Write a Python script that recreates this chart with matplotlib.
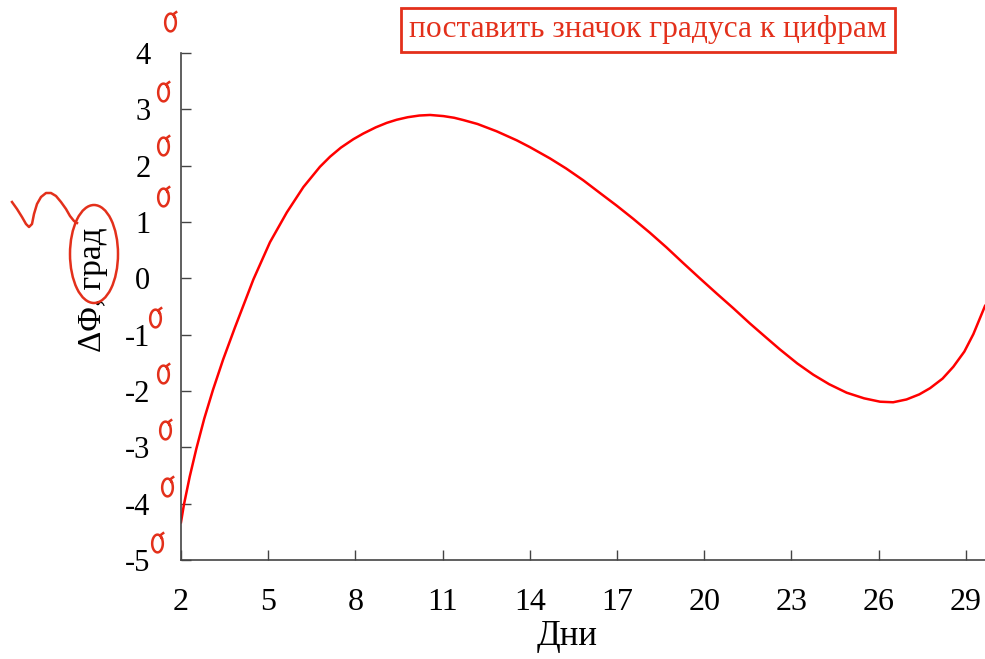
import numpy as np
import matplotlib.pyplot as plt
from matplotlib.path import Path
from matplotlib.patches import Ellipse
from matplotlib.lines import Line2D
import matplotlib.transforms as mtransforms

# values
days = [2.0, 2.1, 2.3, 2.53, 2.8, 3.1, 3.45, 3.85, 4.2, 4.49, 5.06, 5.64, 6.21, 6.78, 7.13,
        7.5, 7.93, 8.27, 8.7, 9.08, 9.42, 9.8, 10.2, 10.57, 11.03, 11.4, 11.71, 12.2, 12.86,
        13.55, 14.0, 14.69, 15.25, 15.84, 16.4, 16.99, 17.55, 18.13, 18.7, 19.28, 19.85,
        20.43, 21.0, 21.57, 22.15, 22.6, 23.2, 23.75, 24.3, 24.9, 25.5, 26.05, 26.5, 26.96,
        27.4, 27.77, 28.2, 28.57, 28.95, 29.26, 29.66]
dphi = [-4.33, -4.02, -3.52, -3.02, -2.49, -1.98, -1.44, -0.88, -0.41, -0.02, 0.64, 1.17,
        1.62, 1.98, 2.16, 2.32, 2.47, 2.57, 2.68, 2.76, 2.815, 2.86, 2.89, 2.90, 2.88, 2.85,
        2.81, 2.74, 2.61, 2.45, 2.33, 2.13, 1.95, 1.74, 1.52, 1.29, 1.06, 0.81, 0.55, 0.27,
        0.0, -0.27, -0.53, -0.80, -1.06, -1.26, -1.51, -1.71, -1.88, -2.03, -2.13, -2.19,
        -2.20, -2.15, -2.06, -1.95, -1.78, -1.57, -1.30, -0.99, -0.49]
xticks = [2, 5, 8, 11, 14, 17, 20, 23, 26, 29]
yticks = [-5, -4, -3, -2, -1, 0, 1, 2, 3, 4]
# hand-drawn degree marks next to these tick labels (0 has none)
mark_ticks = [4, 3, 2, 1, -1, -2, -3, -4, -5]
mark_shift = [0.55, 0.3, 0.35, 0.45, 0.3, 0.3, 0.3, 0.3, 0.3]
mark_dx = [-0.014, -0.022, -0.023, -0.022, -0.032, -0.023, -0.020, -0.017, -0.030]

plt.rcParams['font.family'] = ['Liberation Serif', 'DejaVu Serif']
plt.rcParams['axes.unicode_minus'] = False

pen = '#e3301b'
fig = plt.figure(figsize=(9.85, 6.59), dpi=100)
ax = fig.add_axes([181 / 985, 99 / 659, 804 / 985, 507 / 659])

ax.plot(days, dphi, color='#ff0000', lw=1.8)

ax.set_xlim(2, 29.66)
ax.set_ylim(-5, 4)
ax.set_xticks(xticks)
ax.set_yticks(yticks)
ax.set_xticklabels([str(t) for t in xticks], fontsize=23)
ax.set_yticklabels([str(t) for t in yticks], fontsize=22)
ax.tick_params(axis='both', direction='in', length=7, width=1, color='#444444')
ax.tick_params(axis='x', pad=20)
ax.tick_params(axis='y', pad=22)
for s in ['top', 'right']:
    ax.spines[s].set_visible(False)
for s in ['left', 'bottom']:
    ax.spines[s].set_color('#444444')
    ax.spines[s].set_linewidth(1.2)

ax.set_xlabel('Дни', fontsize=25)
ax.xaxis.set_label_coords(0.48, -0.118)
ax.set_ylabel('ΔΦ, град', fontsize=24)
ax.yaxis.set_label_coords(-0.091, 0.533)

# note in a red box
fig.text(648 / 985, 1 - 30 / 659, 'поставить значок градуса к цифрам', color=pen,
         fontsize=22.7, ha='center', va='center',
         bbox=dict(boxstyle='square,pad=0.25', fc='white', ec=pen, lw=2))

# hand-drawn degree loops
t = np.linspace(0.15 * np.pi, 2.35 * np.pi, 40)
loop = np.column_stack([0.6 * np.cos(t), np.sin(t)])
loop = np.vstack([loop, [[0.75, 1.25]]])
loop_marker = Path(loop)
blend = mtransforms.blended_transform_factory(ax.transAxes, ax.transData)
for v, dy, dx in zip(mark_ticks, mark_shift, mark_dx):
    ax.plot([dx], [v + dy], marker=loop_marker, ms=16, mfc='none', mec=pen, mew=1.8,
            transform=blend, clip_on=False)

# circle around "град" and squiggle
fig.patches.append(Ellipse((94 / 985, 1 - 254 / 659), 48 / 985, 98 / 659, fill=False,
                           ec=pen, lw=1.8, transform=fig.transFigure))
sq_x = np.array([12, 17, 22, 26, 29, 32, 34, 37, 41, 46, 51, 56, 61, 66, 70, 74, 77]) / 985
sq_y = 1 - np.array([202, 209, 217, 224, 227, 224, 214, 204, 197, 193, 193, 196, 202,
                     209, 216, 221, 223]) / 659
fig.lines.append(Line2D(sq_x, sq_y, color=pen, lw=1.8, transform=fig.transFigure))

fig.savefig('out.png', dpi=100)
